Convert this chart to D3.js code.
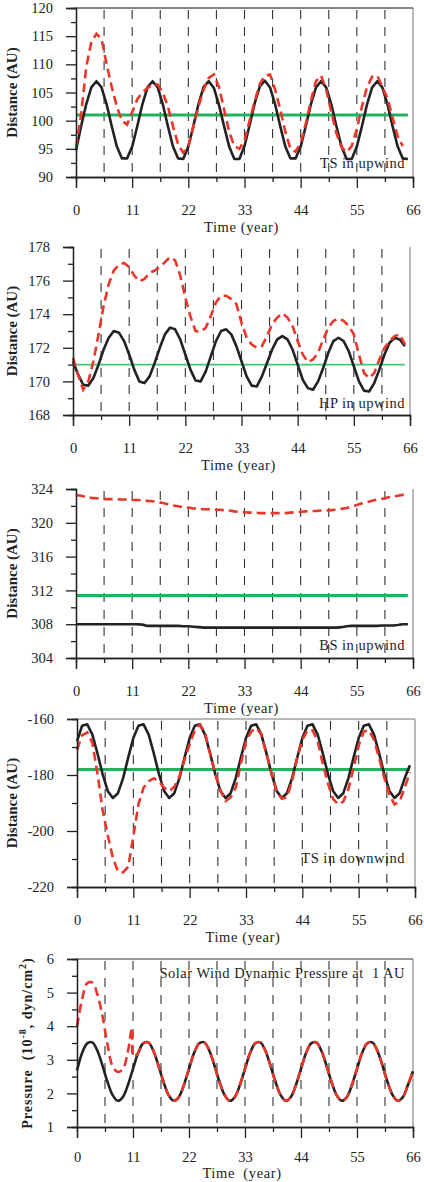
<!DOCTYPE html>
<html>
<head>
<meta charset="utf-8">
<script src="https://cdn.jsdelivr.net/npm/d3@7/dist/d3.min.js"></script>
<style>
body { margin: 0; background: #fff; }
text { font-family: "Liberation Serif", "DejaVu Serif", serif; fill: #222; }
</style>
</head>
<body>
<div id="chart-area"></div>
<script>
/*
*    five stacked panels, shared time axis
*/

// time sampling (years)
const years = d3.range(0, 66);
const years67 = d3.range(0, 67);

const xMajorTicks = [0, 11, 22, 33, 44, 55, 66];
const xMinorTicks = [5.5, 16.5, 27.5, 38.5, 49.5, 60.5];
const refSpan = [0, 65];

// TS in upwind
const tsUpBlack = [94.7, 99.0, 102.9, 105.9, 107.0, 105.9, 102.9, 99.0, 95.4, 93.3, 93.3,
    95.4, 99.0, 102.9, 105.9, 107.0, 105.9, 102.9, 99.0, 95.4, 93.3, 93.2,
    95.4, 99.1, 103.0, 106.0, 107.0, 105.8, 102.8, 99.0, 95.4, 93.2, 93.2,
    95.5, 99.2, 103.1, 106.1, 107.1, 105.9, 102.9, 99.0, 95.4, 93.3, 93.3,
    95.4, 99.0, 102.9, 105.9, 107.0, 105.9, 102.9, 99.0, 95.4, 93.2, 93.2,
    95.4, 99.0, 102.9, 105.9, 107.0, 105.9, 102.9, 99.0, 95.4, 93.3, 93.2];
const tsUpRed = [95.2, 101.0, 109.5, 114.0, 115.4, 114.5, 110.0, 106.0, 102.5, 100.0, 99.3,
    101.5, 103.8, 105.0, 105.8, 106.4, 106.4, 105.0, 102.5, 99.0, 95.8, 94.3,
    95.5, 99.0, 102.5, 105.5, 107.6, 108.2, 106.0, 102.0, 98.0, 95.5, 95.0,
    96.5, 100.0, 103.5, 106.5, 108.0, 108.2, 105.5, 102.0, 98.0, 95.0, 94.5,
    96.0, 99.5, 103.5, 107.0, 108.0, 105.5, 101.5, 97.8, 95.3, 94.4,
    95.5, 98.5, 102.5, 106.0, 107.8, 108.0, 106.0, 104.0, 100.5, 97.2, 95.5];
const tsUpGreen = 101;
const tsUpTicks = [90, 95, 100, 105, 110, 115, 120];
const tsUpMinor = [92.5, 97.5, 102.5, 107.5, 112.5, 117.5];

// HP in upwind
const hpUpBlack = [171.2, 170.4, 169.8, 169.75, 170.2, 171.0, 171.9, 172.6, 173.0, 172.9, 172.4,
    171.6, 170.7, 170.0, 169.9, 170.3, 171.1, 172.0, 172.8, 173.2, 173.1, 172.5,
    171.6, 170.7, 170.05, 170.0, 170.6, 171.5, 172.4, 173.0, 173.1, 172.8, 172.1,
    171.2, 170.3, 169.75, 169.7, 170.3, 171.1, 171.9, 172.5, 172.7, 172.5, 171.9,
    171.0, 170.1, 169.6, 169.5, 170.0, 170.8, 171.7, 172.4, 172.6, 172.4, 171.8,
    170.9, 170.0, 169.45, 169.4, 169.9, 170.7, 171.6, 172.3, 172.6, 172.5, 172.1];
const hpUpRed = [171.4, 170.4, 169.5, 170.0, 171.2, 172.8, 174.5, 175.8, 176.6, 176.95, 177.05,
    176.8, 176.3, 175.95, 176.1, 176.45, 176.6, 176.8, 177.1, 177.4, 177.2, 176.3,
    175.0, 173.85, 173.0, 172.95, 173.2, 173.9, 174.7, 175.1, 175.1, 174.9, 174.6,
    173.5, 172.6, 172.2, 172.0, 172.1, 172.7, 173.4, 173.8, 174.05, 173.8, 173.3,
    172.4, 171.6, 171.15, 171.3, 171.7, 172.5, 173.2, 173.6, 173.75, 173.6, 173.3,
    172.8, 171.6, 170.5, 170.2, 170.5, 171.3, 172.0, 172.4, 172.7, 172.8, 172.2];
const hpUpGreen = 171;
const hpUpTicks = [168, 170, 172, 174, 176, 178];
const hpUpMinor = [169, 171, 173, 175, 177];

// BS in upwind
const bsUpBlack = [308.0, 308.0, 308.0, 308.0, 308.0, 308.0, 308.0, 308.0, 308.0, 308.0, 308.0,
    308.0, 308.0, 307.95, 307.8, 307.8, 307.8, 307.8, 307.8, 307.8, 307.8, 307.75,
    307.75, 307.7, 307.65, 307.6, 307.6, 307.6, 307.6, 307.6, 307.6, 307.6, 307.6,
    307.6, 307.6, 307.6, 307.6, 307.6, 307.6, 307.6, 307.6, 307.6, 307.6, 307.6,
    307.6, 307.6, 307.6, 307.6, 307.6, 307.6, 307.6, 307.6, 307.65, 307.75, 307.8,
    307.8, 307.8, 307.8, 307.8, 307.8, 307.85, 307.85, 307.85, 307.9, 308.0, 308.0];
const bsUpRed = [323.3, 323.2, 323.05, 322.95, 322.9, 322.85, 322.8, 322.8, 322.8, 322.75, 322.75,
    322.7, 322.7, 322.65, 322.6, 322.55, 322.45, 322.35, 322.2, 322.05, 321.95, 321.85,
    321.8, 321.7, 321.65, 321.6, 321.6, 321.55, 321.55, 321.5, 321.45, 321.35, 321.3,
    321.25, 321.2, 321.2, 321.15, 321.15, 321.15, 321.15, 321.15, 321.15, 321.2, 321.25,
    321.3, 321.35, 321.4, 321.4, 321.45, 321.45, 321.5, 321.55, 321.65, 321.75, 321.9,
    322.1, 322.3, 322.45, 322.6, 322.75, 322.85, 323.0, 323.1, 323.2, 323.3, 323.35];
const bsUpGreen = 311.4;
const bsUpTicks = [304, 308, 312, 316, 320, 324];
const bsUpMinor = [306, 310, 314, 318, 322];

// TS in downwind
const tsDownBlack = [-168.0, -162.4, -161.9, -165.6, -172.3, -179.7, -185.7, -188.2, -186.5, -181.1, -173.8,
    -166.8, -162.4, -161.9, -165.6, -172.3, -179.7, -185.7, -188.2, -186.5, -181.1, -173.8,
    -166.8, -162.4, -161.9, -165.6, -172.3, -179.7, -185.7, -188.2, -186.5, -181.1, -173.8,
    -166.8, -162.4, -161.9, -165.6, -172.3, -179.7, -185.7, -188.2, -186.5, -181.1, -173.8,
    -166.8, -162.4, -161.9, -165.6, -172.3, -179.7, -185.7, -188.2, -186.5, -181.1, -173.8,
    -166.8, -162.4, -161.9, -165.6, -172.3, -179.7, -185.7, -188.2, -186.5, -181.1, -176.5];
const tsDownRed = [-171.0, -165.8, -164.8, -168.5, -179.5, -192.5, -201.5, -209.5, -214.5, -214.8, -212.8,
    -202.0, -190.5, -184.5, -182.2, -181.2, -182.3, -184.5, -185.8, -184.2, -180.5, -174.5,
    -169.0, -164.0, -162.0, -165.0, -172.5, -179.5, -185.5, -189.3, -188.0, -184.5, -176.0,
    -168.0, -164.5, -163.2, -165.5, -172.5, -179.5, -186.0, -188.5, -188.0, -182.0, -174.0,
    -167.5, -164.0, -164.0, -168.0, -176.0, -183.0, -188.5, -190.5, -189.5, -185.0, -177.5,
    -169.5, -164.5, -164.0, -167.5, -174.0, -181.0, -187.0, -190.5, -189.5, -184.5, -179.0];
const tsDownGreen = -178;
const tsDownTicks = [-220, -200, -180, -160];
const tsDownMinor = [-210, -190, -170];

// Solar wind dynamic pressure at 1 AU
const pressBlack = [2.68, 3.20, 3.49, 3.52, 3.27, 2.83, 2.34, 1.95, 1.78, 1.89, 2.25,
    2.73, 3.20, 3.49, 3.52, 3.27, 2.83, 2.34, 1.95, 1.78, 1.89, 2.25,
    2.73, 3.20, 3.49, 3.52, 3.27, 2.83, 2.34, 1.95, 1.78, 1.89, 2.25,
    2.73, 3.20, 3.49, 3.52, 3.27, 2.83, 2.34, 1.95, 1.78, 1.89, 2.25,
    2.73, 3.20, 3.49, 3.52, 3.27, 2.83, 2.34, 1.95, 1.78, 1.89, 2.25,
    2.73, 3.20, 3.49, 3.52, 3.27, 2.83, 2.34, 1.95, 1.78, 1.89, 2.25, 2.66];
const pressRedEarlyYears = [0, 1, 2, 3, 4, 5, 6, 7, 8, 9, 10, 10.8, 11.1];
const pressRedEarly = [3.99, 4.8, 5.28, 5.3, 4.95, 4.3, 3.45, 2.8, 2.64, 2.72, 3.25, 3.95, 3.1];
const pressTicks = [1, 2, 3, 4, 5, 6];
const pressMinor = [1.5, 2.5, 3.5, 4.5, 5.5];

const width = 424;
const height = 1182;

const svg = d3.select("#chart-area")
    .append("svg")
    .attr("width", width)
    .attr("height", height);

function pairs(xs, ys) {
    return ys.map((v, i) => [xs[i], v]);
}

const panels = [
    {left: 76, right: 413, top: 8, bottom: 177, domain: [90, 120],
     ticks: tsUpTicks, minor: tsUpMinor, topBorder: "#111",
     black: pairs(years, tsUpBlack), red: pairs(years, tsUpRed), green: tsUpGreen, greenW: 3,
     note: "TS in upwind", noteY: 168, ylabel: "Distance (AU)", ylabelX: 12},
    {left: 73, right: 410, top: 247, bottom: 415, domain: [168, 178],
     ticks: hpUpTicks, minor: hpUpMinor, topBorder: null,
     black: pairs(years, hpUpBlack), red: pairs(years, hpUpRed), green: hpUpGreen, greenW: 1.6,
     greenColor: "#3ccb74",
     note: "HP in upwind", noteY: 408, ylabel: "Distance (AU)", ylabelX: 12},
    {left: 76, right: 413, top: 489, bottom: 658, domain: [304, 324],
     ticks: bsUpTicks, minor: bsUpMinor, topBorder: null,
     black: pairs(years, bsUpBlack), red: pairs(years, bsUpRed), green: bsUpGreen, greenW: 3,
     note: "BS in upwind", noteY: 650, ylabel: "Distance (AU)", ylabelX: 12},
    {left: 77, right: 415, top: 719, bottom: 887, domain: [-220, -160],
     ticks: tsDownTicks, minor: tsDownMinor, topBorder: "#777",
     black: pairs(years, tsDownBlack), red: pairs(years, tsDownRed), green: tsDownGreen, greenW: 3,
     note: "TS in downwind", noteY: 863, ylabel: "Distance (AU)", ylabelX: 12},
    {left: 77, right: 413, top: 959, bottom: 1127, domain: [1, 6],
     ticks: pressTicks, minor: pressMinor, topBorder: "#333",
     black: pairs(years67, pressBlack),
     red: pairs(pressRedEarlyYears, pressRedEarly).concat(pairs(years67, pressBlack).slice(12)),
     green: null, smooth: true,
     note: "Solar Wind Dynamic Pressure at  1 AU", noteY: 978, pressure: true, ylabelX: 27,
     xlabel: "Time  (year)", xlabelDy: 51, xPad: 14}
];

panels.forEach(p => {
    const g = svg.append("g");

    const x = d3.scaleLinear()
        .domain([0, 66])
        .range([p.left, p.right]);

    const y = d3.scaleLinear()
        .domain(p.domain)
        .range([p.bottom, p.top]);

    // dashed vertical grid every 5.5 years
    g.selectAll(".grid")
        .data(d3.range(1, 12).map(i => i * 5.5))
        .enter()
        .append("line")
            .attr("x1", d => x(d))
            .attr("x2", d => x(d))
            .attr("y1", p.top + 2)
            .attr("y2", p.bottom)
            .attr("stroke", "#333")
            .attr("stroke-width", 1.1)
            .attr("stroke-dasharray", "9,8");

    // borders
    g.append("line")
        .attr("x1", p.right).attr("x2", p.right)
        .attr("y1", p.top).attr("y2", p.bottom)
        .attr("stroke", "#777")
        .attr("stroke-width", 1);
    if (p.topBorder) {
        g.append("line")
            .attr("x1", p.left).attr("x2", p.right)
            .attr("y1", p.top).attr("y2", p.top)
            .attr("stroke", p.topBorder)
            .attr("stroke-width", 1.2);
    }

    // green reference line
    if (p.green !== null) {
        g.append("line")
            .attr("x1", x(refSpan[0])).attr("x2", x(refSpan[1]))
            .attr("y1", y(p.green)).attr("y2", y(p.green))
            .attr("stroke", p.greenColor || "#1eb35e")
            .attr("stroke-width", p.greenW);
    }

    const line = d3.line()
        .x(d => x(d[0]))
        .y(d => y(d[1]))
        .curve(p.smooth ? d3.curveCatmullRom : d3.curveLinear);

    g.append("path")
        .attr("d", line(p.black))
        .attr("fill", "none")
        .attr("stroke", "#222")
        .attr("stroke-width", 2.6)
        .attr("stroke-linejoin", "round");

    g.append("path")
        .attr("d", line(p.red))
        .attr("fill", "none")
        .attr("stroke", "#e8362a")
        .attr("stroke-width", 2.6)
        .attr("stroke-dasharray", "9,5");

    // axes
    const leftAxis = d3.axisLeft(y)
        .tickValues(p.ticks)
        .tickSize(10)
        .tickPadding(13)
        .tickFormat(d => d);
    const leftMinor = d3.axisLeft(y)
        .tickValues(p.minor)
        .tickSize(5)
        .tickFormat("");
    const bottomAxis = d3.axisBottom(x)
        .tickValues(xMajorTicks)
        .tickSize(11)
        .tickPadding(p.xPad || 17)
        .tickFormat(d => d);
    const bottomMinor = d3.axisBottom(x)
        .tickValues(xMinorTicks)
        .tickSize(5)
        .tickFormat("");

    g.append("g")
        .attr("class", "left axis")
        .attr("transform", "translate(" + p.left + ",0)")
        .call(leftAxis);
    g.append("g")
        .attr("class", "left axis")
        .attr("transform", "translate(" + p.left + ",0)")
        .call(leftMinor);
    g.append("g")
        .attr("class", "bottom axis")
        .attr("transform", "translate(0," + p.bottom + ")")
        .call(bottomAxis);
    g.append("g")
        .attr("class", "bottom axis")
        .attr("transform", "translate(0," + p.bottom + ")")
        .call(bottomMinor);

    g.selectAll(".axis path, .axis line")
        .attr("stroke", "#222")
        .attr("stroke-width", 1.3);
    g.selectAll(".axis text")
        .attr("font-family", "Liberation Serif, serif")
        .attr("font-size", "14.5px")
        .attr("fill", "#222");

    // labels
    g.append("text")
        .attr("x", (p.left + p.right) / 2 - 3)
        .attr("y", p.bottom + (p.xlabelDy || 55))
        .attr("text-anchor", "middle")
        .attr("font-size", "14.5px")
        .attr("letter-spacing", "0.6px")
        .style("white-space", "pre")
        .text(p.xlabel || "Time (year)");

    g.append("text")
        .attr("x", 405)
        .attr("y", p.noteY)
        .attr("text-anchor", "end")
        .attr("font-size", "14.5px")
        .attr("letter-spacing", "0.5px")
        .style("white-space", "pre")
        .text(p.note);

    const yl = g.append("text")
        .attr("transform", "translate(" + p.ylabelX + "," + ((p.top + p.bottom) / 2) + ") rotate(-90)")
        .attr("text-anchor", "middle")
        .attr("dominant-baseline", "central")
        .attr("font-weight", "bold")
        .attr("font-size", "15px")
        .style("white-space", "pre");

    if (p.pressure) {
        yl.attr("letter-spacing", "1px").attr("font-size", "14px");
        yl.append("tspan").text("Pressure  (10");
        yl.append("tspan").attr("dy", "-5").attr("font-size", "10px").text("-8");
        yl.append("tspan").attr("dy", "5").text(", dyn/cm");
        yl.append("tspan").attr("dy", "-5").attr("font-size", "10px").text("2");
        yl.append("tspan").attr("dy", "5").text(")");
    } else {
        yl.text(p.ylabel);
    }
});
</script>
</body>
</html>
